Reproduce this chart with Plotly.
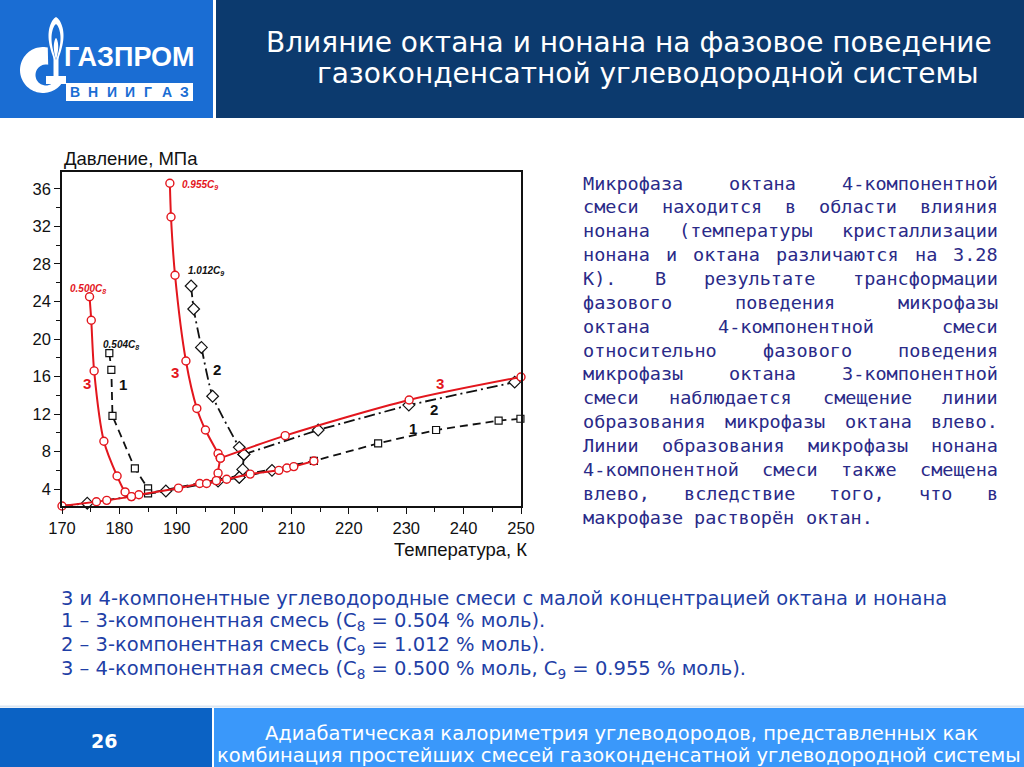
import numpy as np
import plotly.graph_objects as go

W, H = 1024, 767
def px(x): return x / W
def py(y): return 1 - y / H

# ---------------- data ----------------
t_ticks = list(range(170, 251, 10))
p_ticks = list(range(4, 37, 4))

# series 3 (4-component, red, circles)
s3_left_T = [174.8, 175.1, 175.6, 177.3, 179.6, 181.0, 182.1]
s3_left_P = [24.5, 22.0, 16.6, 9.1, 5.4, 3.7, 3.2]
s3_low_T = [170.0, 176.0, 177.8, 182.1, 183.4, 190.3, 194.0, 195.2, 196.9, 198.7, 202.8, 207.8, 209.2, 210.4, 213.9]
s3_low_P = [2.2, 2.65, 2.8, 3.2, 3.4, 4.1, 4.6, 4.6, 4.9, 5.05, 5.6, 6.0, 6.25, 6.4, 7.0]
s3_right_T = [188.8, 189.0, 189.7, 191.6, 193.5, 195.0, 197.2, 197.6]
s3_right_P = [36.6, 33.0, 26.8, 17.65, 12.6, 10.3, 7.8, 7.3]
s3_drop_T = [197.6, 197.2, 196.9]
s3_drop_P = [7.3, 5.7, 4.9]
s3_up_T = [197.6, 208.9, 230.5, 250.0]
s3_up_P = [7.3, 9.7, 13.5, 15.95]

# series 2 (3-component, C9 = 1.012, diamonds, dash-dot)
s2_branch_T = [192.5, 192.95, 194.3, 196.25, 200.9, 201.7]
s2_branch_P = [25.65, 23.2, 19.1, 13.9, 8.45, 7.7]
s2_drop_T = [201.7, 201.5, 200.9]
s2_drop_P = [7.7, 6.1, 5.25]
s2_up_T = [201.7, 214.65, 230.45, 248.9]
s2_up_P = [7.7, 10.3, 12.96, 15.4]
s2_low_T = [170.0, 174.4, 188.1, 197.2, 200.9, 206.6, 212.0]
s2_low_P = [2.2, 2.5, 3.8, 4.85, 5.25, 6.0, 6.7]
s2_low_marker = [False, True, True, True, True, True, False]

# series 1 (3-component, C8 = 0.504, squares, dashed)
s1_T = [178.25, 178.6, 178.8, 182.7, 185.0, 185.0, 213.9, 225.1, 235.2, 246.1, 249.9]
s1_P = [18.5, 16.7, 11.8, 6.2, 4.07, 3.55, 7.0, 8.87, 10.3, 11.3, 11.5]

# curve labels: (T, P, text, colour key)
curve_labels = [
    (174.5, 25.35, "<b><i>0.500C<sub>8</sub></i></b>", "r"),
    (194.0, 36.45, "<b><i>0.955C<sub>9</sub></i></b>", "r"),
    (195.1, 27.3, "<b><i>1.012C<sub>9</sub></i></b>", "k"),
    (180.3, 19.4, "<b><i>0.504C<sub>8</sub></i></b>", "k"),
]
num_labels = [
    (174.4, 15.3, "3", "r"), (180.6, 15.2, "1", "k"),
    (189.7, 16.4, "3", "r"), (197.0, 16.8, "2", "k"),
    (235.9, 15.3, "3", "r"), (234.8, 12.5, "2", "k"), (231.2, 10.5, "1", "k"),
]

title_lines = ["Влияние октана и нонана на фазовое поведение",
               "газоконденсатной углеводородной системы"]
para_lines = [
    "Микрофаза октана 4-компонентной",
    "смеси находится в области влияния",
    "нонана (температуры кристаллизации",
    "нонана и октана различаются на 3.28",
    "К). В результате трансформации",
    "фазового поведения микрофазы",
    "октана 4-компонентной смеси",
    "относительно фазового поведения",
    "микрофазы октана 3-компонентной",
    "смеси наблюдается смещение линии",
    "образования микрофазы октана влево.",
    "Линии образования микрофазы нонана",
    "4-компонентной смеси также смещена",
    "влево, вследствие того, что в",
    "макрофазе растворён октан.",
]
note_lines = [
    "3 и 4-компонентные углеводородные смеси с малой концентрацией октана и нонана",
    "1 – 3-компонентная смесь (C<sub>8</sub> = 0.504 % моль).",
    "2 – 3-компонентная смесь (C<sub>9</sub> = 1.012 % моль).",
    "3 – 4-компонентная смесь (C<sub>8</sub> = 0.500 % моль, C<sub>9</sub> = 0.955 % моль).",
]
footer_lines = ["Адиабатическая калориметрия углеводородов, представленных как",
                "комбинация простейших смесей газоконденсатной углеводородной системы"]
page_no = "26"

# ---------------- styles ----------------
RED = "#e3161d"
BLK = "#111111"
LOGO_BLUE = "#1a6dd3"
NAVY = "#0c3a6e"
PARA_C = "#2a2a88"
NOTE_C = "#1f3fa6"
AX_FONT = "Liberation Sans, Arial, sans-serif"

fig = go.Figure()

def red_trace(T, P, shape="spline", markers=True):
    fig.add_trace(go.Scatter(
        x=T, y=P, mode="lines+markers" if markers else "lines",
        line=dict(color=RED, width=2, shape=shape, smoothing=0.8),
        marker=dict(symbol="circle", size=8, color="white", line=dict(color=RED, width=1.4)),
        cliponaxis=False, hoverinfo="skip"))

def blk_trace(T, P, dash, symbol, size, shape="linear", msel=None):
    fig.add_trace(go.Scatter(
        x=T, y=P, mode="lines+markers",
        line=dict(color=BLK, width=1.8, dash=dash, shape=shape, smoothing=0.6),
        marker=dict(symbol=symbol, size=size, color="white",
                    line=dict(color=BLK, width=1.2),
                    opacity=[1 if m else 0 for m in msel] if msel else 1),
        cliponaxis=False, hoverinfo="skip"))

DASH1 = "8px,5px"
DASH2 = "11px,4px,2px,4px"
blk_trace(s1_T, s1_P, DASH1, "square", 7)
blk_trace(s2_low_T, s2_low_P, DASH2, "diamond", 9, msel=s2_low_marker)
blk_trace(s2_branch_T, s2_branch_P, DASH2, "diamond", 9, shape="spline")
blk_trace(s2_drop_T, s2_drop_P, DASH2, "diamond", 9)
blk_trace(s2_up_T, s2_up_P, DASH2, "diamond", 9)
red_trace(s3_low_T, s3_low_P, shape="linear")
red_trace(s3_left_T, s3_left_P)
red_trace(s3_right_T, s3_right_P)
red_trace(s3_drop_T, s3_drop_P, shape="linear")
red_trace(s3_up_T, s3_up_P)

ann = []
for T, P, txt, c in curve_labels:
    ann.append(dict(x=T, y=P, xref="x", yref="y", text=txt, showarrow=False,
                    font=dict(family=AX_FONT, size=10, color=RED if c == "r" else BLK)))
for T, P, txt, c in num_labels:
    ann.append(dict(x=T, y=P, xref="x", yref="y", text="<b>" + txt + "</b>", showarrow=False,
                    font=dict(family=AX_FONT, size=15, color=RED if c == "r" else BLK)))

def pann(x, y, text, size, color, family="DejaVu Sans", xanchor="center"):
    ann.append(dict(x=px(x), y=py(y), xref="paper", yref="paper", xanchor=xanchor,
                    yanchor="middle", text=text, showarrow=False, borderpad=0,
                    font=dict(family=family, size=size, color=color)))

# axis titles
pann(63, 158, "Давление, МПа", 18.5, BLK, AX_FONT, "left")
pann(528, 549, "Температура, К", 18.5, BLK, AX_FONT, "right")

# title
pann(629, 42, title_lines[0], 28, "white")
pann(648, 74, title_lines[1], 28, "white")

# justified paragraph (monospace)
PFS = 18.5
CW = 0.602 * PFS
X0, X1 = 582, 997
for i, line in enumerate(para_lines):
    words = line.split(" ")
    yc = 183 + i * 23.86
    nch = sum(len(w) for w in words)
    if i == len(para_lines) - 1 or len(words) == 1:
        gap = CW
    else:
        gap = (X1 - X0 - nch * CW) / (len(words) - 1)
    xpos = X0
    for w in words:
        pann(xpos, yc, w, PFS, PARA_C, "DejaVu Sans Mono", "left")
        xpos += len(w) * CW + gap

for i, line in enumerate(note_lines):
    pann(60, 598 + i * 23.7, line, 19.5, NOTE_C, "DejaVu Sans", "left")

# footer
pann(104, 741, "<b>" + page_no + "</b>", 19, "white")
pann(621, 733, footer_lines[0], 19.5, "white")
pann(619, 755, footer_lines[1], 19.5, "white")

# logo texts
pann(129, 57, "<b>ГАЗПРОМ</b>", 27, "white", "Liberation Sans")
for k, ch in enumerate("ВНИИГАЗ"):
    pann(75 + k * 18.3, 92, "<b>" + ch + "</b>", 14, LOGO_BLUE, "Liberation Sans")

# ---------------- shapes ----------------
def rect(x0, y0, x1, y1, color, layer="below"):
    return dict(type="rect", xref="paper", yref="paper", x0=px(x0), x1=px(x1), y0=py(y1), y1=py(y0),
                fillcolor=color, line=dict(width=0), layer=layer)

def poly(points, color):
    d = "M " + " L ".join(f"{px(x):.5f},{py(y):.5f}" for x, y in points) + " Z"
    return dict(type="path", xref="paper", yref="paper", path=d, fillcolor=color,
                line=dict(width=0), layer="above")

def teardrop(cx, ytop, ybot, w, n=40):
    ts = np.linspace(0, 1, n)
    hw = w * np.sin(np.pi * ts ** 0.75) ** 0.9
    right = [(cx + h, ytop + t * (ybot - ytop)) for t, h in zip(ts, hw)]
    left = [(cx - h, ytop + t * (ybot - ytop)) for t, h in zip(ts[::-1], hw[::-1])]
    return right + left

shapes = [
    rect(0, 0, 213, 118, LOGO_BLUE),
    rect(216, 0, 1024, 118, NAVY),
    rect(0, 705.5, 1024, 707.5, "#dbe6f2"),
    rect(0, 708, 212, 767, "#0b62c4"),
    rect(214, 708, 1024, 767, "#3a98fa"),
    rect(66, 83, 193, 101, "white", layer="above"),
]
# G symbol
th = np.radians(np.linspace(78, 345, 60))
outer = [(43 + 23 * np.cos(a), 70 - 23 * np.sin(a)) for a in th]
inner = [(46 + 10.5 * np.cos(a), 75 - 10.5 * np.sin(a)) for a in th[::-1]]
shapes.append(poly(outer + inner, "white"))
shapes.append(poly([(46, 76), (66, 76), (66, 84), (46, 84)], "white"))
shapes.append(poly([(53.5, 55), (58.5, 55), (58.5, 80), (53.5, 80)], "white"))
shapes.append(poly(teardrop(56, 17, 64, 7.5), "white"))
shapes.append(poly(teardrop(56, 24, 60, 4.5), LOGO_BLUE))
shapes.append(poly(teardrop(56, 38, 60, 2.2), "white"))

axis_common = dict(showline=True, linecolor=BLK, linewidth=1.5, mirror=True, ticks="outside",
                   ticklen=6, tickwidth=1.3, tickcolor=BLK, showgrid=False, zeroline=False,
                   automargin=False, tickfont=dict(family=AX_FONT, size=16.5, color=BLK))

fig.update_layout(
    width=W, height=H, margin=dict(l=0, r=0, t=0, b=0, pad=0, autoexpand=False),
    autosize=False,
    paper_bgcolor="white", plot_bgcolor="white", showlegend=False,
    xaxis=dict(range=[170, 250], domain=[px(62), px(521)], tickvals=t_ticks,
               minor=dict(dtick=5, ticks="outside", ticklen=4, tickcolor=BLK, tickwidth=1.2),
               **axis_common),
    yaxis=dict(range=[2.2, 37.8], domain=[py(506), py(172)], tickvals=p_ticks,
               minor=dict(dtick=2, ticks="outside", ticklen=4, tickcolor=BLK, tickwidth=1.2),
               **axis_common),
    annotations=ann, shapes=shapes,
)

fig.write_html("out.html", config={"displayModeBar": False, "responsive": False},
               post_script="document.body.style.margin='0';")
